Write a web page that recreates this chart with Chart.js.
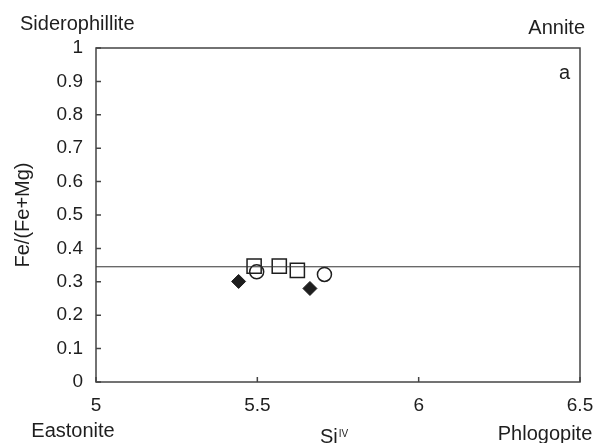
<!DOCTYPE html>
<html>
<head>
<meta charset="utf-8">
<script src="https://cdn.jsdelivr.net/npm/chart.js"></script>
<style>
  html, body { margin: 0; padding: 0; background: #fff; }
  #wrap { width: 596px; height: 443px; }
</style>
</head>
<body>
<div id="wrap"><canvas id="myChart" width="596" height="443"></canvas></div>
<script>
    // values
    var squareX = [5.490, 5.568, 5.624];
    var squareY = [0.347, 0.347, 0.334];
    var circleX = [5.498, 5.708];
    var circleY = [0.330, 0.322];
    var diamondX = [5.442, 5.663];
    var diamondY = [0.301, 0.280];
    var refLineX = [5, 6.5];
    var refLineY = [0.345, 0.345];
    var xTicks = [5, 5.5, 6, 6.5];
    var yTicks = [0, 0.1, 0.2, 0.3, 0.4, 0.5, 0.6, 0.7, 0.8, 0.9, 1];

    var FONT = "'Liberation Sans', Arial, sans-serif";
    var INK = '#1e1e1e';

    function pts(xs, ys) {
        var out = [];
        for (var i = 0; i < xs.length; i++) out.push({ x: xs[i], y: ys[i] });
        return out;
    }

    // frame, inward ticks and the loose labels
    var decor = {
        id: 'decor',
        beforeDatasetsDraw: function (chart) {
            var ctx = chart.ctx, a = chart.chartArea;
            var xs = chart.scales.x, ys = chart.scales.y;
            ctx.save();
            ctx.strokeStyle = '#444';
            ctx.lineWidth = 1.5;
            ctx.strokeRect(a.left, a.top, a.right - a.left, a.bottom - a.top);
            ctx.beginPath();
            xTicks.forEach(function (v) {
                var px = xs.getPixelForValue(v);
                ctx.moveTo(px, a.bottom);
                ctx.lineTo(px, a.bottom - 5);
            });
            yTicks.forEach(function (v) {
                var py = ys.getPixelForValue(v);
                ctx.moveTo(a.left, py);
                ctx.lineTo(a.left + 5, py);
            });
            ctx.stroke();
            ctx.restore();
        },
        afterDraw: function (chart) {
            var ctx = chart.ctx;
            ctx.save();
            ctx.fillStyle = INK;
            ctx.font = '20px ' + FONT;
            ctx.textBaseline = 'alphabetic';
            ctx.textAlign = 'left';
            ctx.fillText('Siderophillite', 20, 30);
            ctx.textAlign = 'right';
            ctx.fillText('Annite', 585, 34);
            ctx.fillText('a', 570, 79);
            ctx.textAlign = 'center';
            ctx.fillText('Eastonite', 73, 437);
            ctx.fillText('Phlogopite', 545, 440);
            // Si with superscript IV
            ctx.textAlign = 'left';
            ctx.fillText('Si', 320, 443);
            var w = ctx.measureText('Si').width;
            ctx.font = '10px ' + FONT;
            ctx.fillText('IV', 320 + w + 1, 437);
            ctx.restore();
        }
    };

    var ctx = document.getElementById('myChart').getContext('2d');
    window.myChart = new Chart(ctx, {
        type: 'scatter',
        data: {
            datasets: [{
                label: 'line',
                type: 'line',
                data: pts(refLineX, refLineY),
                borderColor: '#333',
                borderWidth: 1,
                pointRadius: 0,
                fill: false
            }, {
                label: 'squares',
                data: pts(squareX, squareY),
                pointStyle: 'rect',
                pointRadius: 10,
                pointBorderWidth: 1.5,
                pointBorderColor: INK,
                pointBackgroundColor: 'rgba(255,255,255,0)'
            }, {
                label: 'circles',
                data: pts(circleX, circleY),
                pointStyle: 'circle',
                pointRadius: 7,
                pointBorderWidth: 1.5,
                pointBorderColor: INK,
                pointBackgroundColor: 'rgba(255,255,255,0)'
            }, {
                label: 'diamonds',
                data: pts(diamondX, diamondY),
                pointStyle: 'rectRot',
                pointRadius: 7,
                pointBorderWidth: 1,
                pointBorderColor: INK,
                pointBackgroundColor: INK
            }]
        },
        options: {
            responsive: false,
            animation: false,
            layout: { padding: { top: 48, right: 16, left: 0, bottom: 0 } },
            plugins: { legend: { display: false }, tooltip: { enabled: false } },
            scales: {
                x: {
                    type: 'linear',
                    min: 5, max: 6.5,
                    afterBuildTicks: function (s) { s.ticks = xTicks.map(function (v) { return { value: v }; }); },
                    afterFit: function (s) { s.height = 61; s.paddingLeft = 0; s.paddingRight = 0; },
                    grid: { drawOnChartArea: false, drawTicks: false },
                    border: { display: false },
                    ticks: {
                        color: INK, padding: 12, font: { family: FONT, size: 19 }, maxRotation: 0,
                        callback: function (v) { return String(v); }
                    }
                },
                y: {
                    type: 'linear',
                    min: 0, max: 1,
                    afterBuildTicks: function (s) { s.ticks = yTicks.map(function (v) { return { value: v }; }); },
                    afterFit: function (s) { s.width = 96; s.paddingTop = 0; s.paddingBottom = 0; },
                    grid: { drawOnChartArea: false, drawTicks: false },
                    border: { display: false },
                    ticks: {
                        color: INK, padding: 13, font: { family: FONT, size: 19 },
                        callback: function (v) { return String(v); }
                    },
                    title: {
                        display: true,
                        text: 'Fe/(Fe+Mg)',
                        color: INK,
                        font: { family: FONT, size: 20 },
                        padding: { top: 11, bottom: 0 }
                    }
                }
            }
        },
        plugins: [decor]
    });
</script>
</body>
</html>
